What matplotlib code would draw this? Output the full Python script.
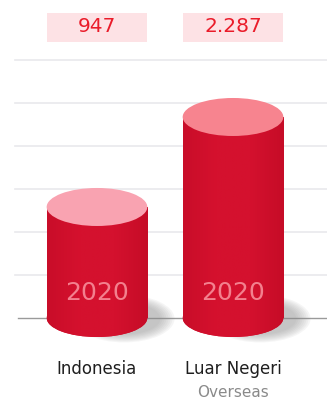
import numpy as np
import matplotlib
matplotlib.use('Agg')
import matplotlib.pyplot as plt
from matplotlib.patches import Ellipse, Rectangle
from matplotlib.colors import LinearSegmentedColormap

# data
categories = ['Indonesia', 'Luar Negeri']
subtitles = ['', 'Overseas']
values = [947, 2287]
value_labels = ['947', '2.287']
year_labels = ['2020', '2020']

# style
body_red = '#d3102c'
top_pinks = ['#f9a3b1', '#f7848f']
box_pink = '#fde2e5'
text_red = '#ea1c2a'
base = -706          # where the cylinders sit (not drawn to scale in the original)
grid_step = 640
bar_w = 0.74
ell_h = 566

fig = plt.figure(figsize=(3.27, 4.0), dpi=100)
ax = fig.add_axes([0, 0, 1, 1])
ax.set_xlim(-0.713, 1.691)
ax.set_ylim(-1927, 4029)
ax.axis('off')

# gridlines (none above the value boxes)
for g in np.arange(base + grid_step, 3400, grid_step):
    ax.axhline(g, xmin=0.046, xmax=1, color='#e9e9ec', lw=1.2, zorder=0)
ax.axhline(base, xmin=0.055, xmax=1, color='#9a9a9a', lw=1.0, zorder=1)

cmap = LinearSegmentedColormap.from_list('cyl', ['#c90d29', '#d5112e', '#d4112e', '#c60c27'])
grad = np.linspace(0, 1, 256).reshape(1, -1)

for i, (cat, sub, v, vl, yl) in enumerate(zip(categories, subtitles, values, value_labels, year_labels)):
    x0 = i - bar_w / 2
    # soft shadow
    for k in range(8):
        sh = Ellipse((i + 0.2, base - 10), bar_w * (1.0 - k * 0.04), ell_h * (1.25 - k * 0.06),
                     color='#8c8c8c', alpha=0.08, lw=0, zorder=1)
        ax.add_patch(sh)
    # body
    body = Rectangle((x0, base), bar_w, v - base, lw=0, facecolor=body_red, zorder=2)
    bot = Ellipse((i, base), bar_w, ell_h, lw=0, facecolor=body_red, zorder=2)
    ax.add_patch(body)
    ax.add_patch(bot)
    im = ax.imshow(grad, extent=[x0, x0 + bar_w, base - ell_h / 2, v], aspect='auto',
                   cmap=cmap, zorder=2.5)
    im.set_clip_path(Rectangle((x0, base), bar_w, v - base, transform=ax.transData))
    im2 = ax.imshow(grad, extent=[x0, x0 + bar_w, base - ell_h / 2, v], aspect='auto',
                    cmap=cmap, zorder=2.5)
    im2.set_clip_path(Ellipse((i, base), bar_w, ell_h, transform=ax.transData))
    # top
    ax.add_patch(Ellipse((i, v), bar_w, ell_h, lw=0, facecolor=top_pinks[i], zorder=3))

    # year label
    ax.text(i, base + 370, yl, ha='center', va='center', fontsize=18,
            color='#f3808e', zorder=4)

    # value box
    ax.add_patch(Rectangle((x0, 3404), bar_w, 432, lw=0, facecolor=box_pink, zorder=1))
    ax.text(i, 3628, vl, ha='center', va='center', fontsize=14.5, color=text_red, zorder=4)

    # category labels
    ax.text(i, -1472, cat, ha='center', va='center', fontsize=12, color='#1f1f1f')
    if sub:
        ax.text(i, -1820, sub, ha='center', va='center', fontsize=11, color='#8a8a8a')

fig.savefig('out.png', dpi=100)
